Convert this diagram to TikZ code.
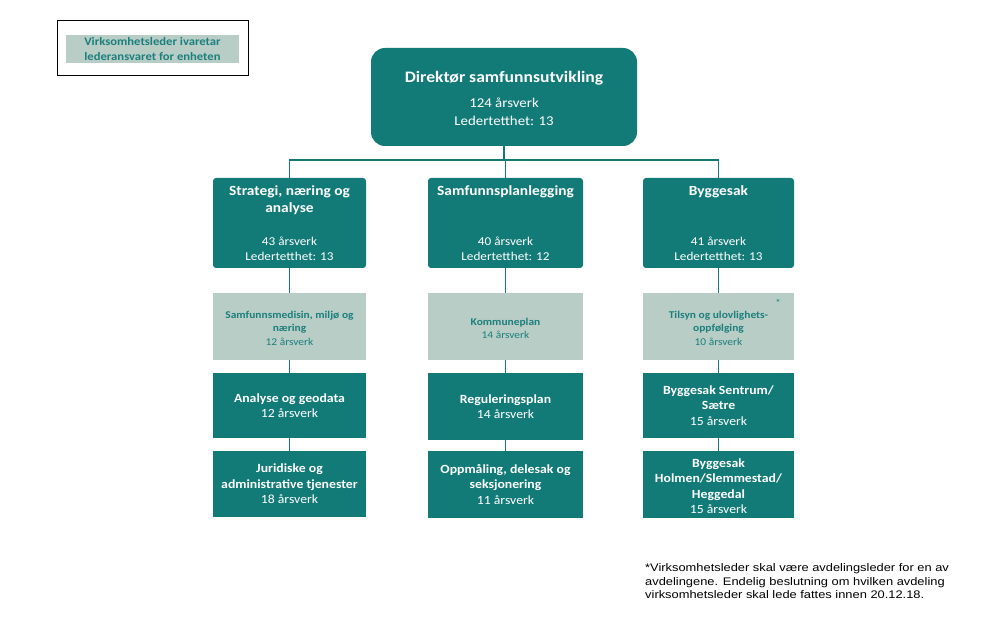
\documentclass[tikz,border=0pt]{standalone}
\usepackage{fontspec}
\setmainfont[FakeStretch=1.1]{Carlito}
\newfontfamily\arialfont[FakeStretch=1.17]{Liberation Sans}
\definecolor{teal1}{HTML}{127B78}
\definecolor{lightgr}{HTML}{B7CDC6}
\definecolor{tealtxt}{HTML}{1C7F7C}
\begin{document}
\begin{tikzpicture}[x=1pt,y=-1pt,
  darkbox/.style={fill=teal1,draw=none,rounded corners=3pt},
  lightbox/.style={fill=lightgr,draw=none},
  conn/.style={draw=teal1,line width=1.2pt},
  wtitle/.style={text=white,font=\fontsize{14}{17}\selectfont\bfseries,align=center,inner sep=0pt},
  wnum/.style={text=white,font=\fontsize{12}{15}\selectfont,align=center,inner sep=0pt},
  ltext/.style={text=tealtxt,align=center,inner sep=0pt,font=\fontsize{10.4}{13.5}\selectfont},
  rtext/.style={text=white,align=center,inner sep=0pt,font=\fontsize{12.5}{15.5}\selectfont}
]
\useasboundingbox (0,0) rectangle (985,620);
% legend
\node[draw=black,line width=0.8pt,minimum width=191pt,minimum height=55pt,inner sep=0pt] (legend) at (152.5,47.5) {};
\node[lightbox,minimum width=173pt,minimum height=28pt,inner sep=0pt,text=tealtxt,align=center,font=\fontsize{11.5}{15}\selectfont\bfseries] (legtxt) at (152.5,49) {Virksomhetsleder ivaretar\\lederansvaret for enheten};
% director
\node[fill=teal1,rounded corners=14pt,minimum width=266pt,minimum height=98pt,inner sep=0pt] (dir) at (504,97) {};
\node[text=white,font=\fontsize{16}{18}\selectfont\bfseries,inner sep=0pt] (dirt) at (504,78) {Direktør samfunnsutvikling};
\node[text=white,font=\fontsize{13.5}{18}\selectfont,align=center,inner sep=0pt] (dirn) at (504,112) {124 årsverk\\Ledertetthet: 13};
% level 2
\node[darkbox,minimum width=153pt,minimum height=90pt,inner sep=0pt] (s) at (289.5,223) {};
\node[darkbox,minimum width=155pt,minimum height=90pt,inner sep=0pt] (p) at (505.5,223) {};
\node[darkbox,minimum width=151pt,minimum height=90pt,inner sep=0pt] (b) at (718.5,223) {};
\node[wtitle,anchor=north] (st) at (289.5,185) {Strategi, næring og\\analyse};
\node[wtitle,anchor=north] (pt) at (505.5,185) {Samfunnsplanlegging};
\node[wtitle,anchor=north] (bt) at (718.5,185) {Byggesak};
\node[wnum] (sn) at (289.5,248.5) {43 årsverk\\Ledertetthet: 13};
\node[wnum] (pn) at (505.5,248.5) {40 årsverk\\Ledertetthet: 12};
\node[wnum] (bn) at (718.5,248.5) {41 årsverk\\Ledertetthet: 13};
% level 3 light
\node[lightbox,minimum width=153pt,minimum height=67pt,inner sep=0pt] (s1) at (289.5,326.5) {};
\node[lightbox,minimum width=155pt,minimum height=67pt,inner sep=0pt] (p1) at (505.5,326.5) {};
\node[lightbox,minimum width=151pt,minimum height=67pt,inner sep=0pt] (b1) at (718.5,326.5) {};
\node[ltext] (s1t) at (289.5,328) {\textbf{Samfunnsmedisin, miljø og}\\\textbf{næring}\\12 årsverk};
\node[ltext] (p1t) at (505.5,328.5) {\textbf{Kommuneplan}\\14 årsverk};
\node[ltext] (b1t) at (718.5,328) {\textbf{Tilsyn og ulovlighets-}\\\textbf{oppfølging}\\10 årsverk};
\node[text=tealtxt,font=\fontsize{10}{10}\selectfont,inner sep=0pt] (star) at (778,303) {*};
% level 4
\node[darkbox,rounded corners=0pt,minimum width=153pt,minimum height=65pt,inner sep=0pt] (s2) at (289.5,405.5) {};
\node[darkbox,rounded corners=0pt,minimum width=155pt,minimum height=67pt,inner sep=0pt] (p2) at (505.5,406.5) {};
\node[darkbox,rounded corners=0pt,minimum width=151pt,minimum height=65pt,inner sep=0pt] (b2) at (718.5,405.5) {};
\node[rtext] (s2t) at (289.5,405.5) {\textbf{Analyse og geodata}\\12 årsverk};
\node[rtext] (p2t) at (505.5,406.5) {\textbf{Reguleringsplan}\\14 årsverk};
\node[rtext] (b2t) at (718.5,405.5) {\textbf{Byggesak Sentrum/}\\\textbf{Sætre}\\15 årsverk};
% level 5
\node[darkbox,rounded corners=0pt,minimum width=153pt,minimum height=66pt,inner sep=0pt] (s3) at (289.5,484) {};
\node[darkbox,rounded corners=0pt,minimum width=155pt,minimum height=67pt,inner sep=0pt] (p3) at (505.5,484.5) {};
\node[darkbox,rounded corners=0pt,minimum width=151pt,minimum height=67pt,inner sep=0pt] (b3) at (718.5,484.5) {};
\node[rtext] (s3t) at (289.5,484) {\textbf{Juridiske og}\\\textbf{administrative tjenester}\\18 årsverk};
\node[rtext] (p3t) at (505.5,484.5) {\textbf{Oppmåling, delesak og}\\\textbf{seksjonering}\\11 årsverk};
\node[rtext] (b3t) at (718.5,486) {\textbf{Byggesak}\\\textbf{Holmen/Slemmestad/}\\\textbf{Heggedal}\\15 årsverk};
% connectors
\coordinate (bus) at (504,160);
\draw[conn] (dir.south) -- (bus);
\draw[conn] (s.north) |- (bus) -| (b.north);
\draw[conn] (p.north) -- (p.north |- bus);
\draw[conn] (s.south) -- (s1.north);
\draw[conn] (p.south) -- (p1.north);
\draw[conn] (b.south) -- (b1.north);
\draw[conn] (s1.south) -- (s2.north);
\draw[conn] (p1.south) -- (p2.north);
\draw[conn] (b1.south) -- (b2.north);
\draw[conn] (s2.south) -- (s3.north);
\draw[conn] (p2.south) -- (p3.north);
\draw[conn] (b2.south) -- (b3.north);
% footnote
\node[anchor=north west,align=left,inner sep=0pt,font=\arialfont\fontsize{11}{13.5}\selectfont] (foot) at (645,563.5) {*Virksomhetsleder skal være avdelingsleder for en av\\avdelingene. Endelig beslutning om hvilken avdeling\\virksomhetsleder skal lede fattes innen 20.12.18.};
\end{tikzpicture}
\end{document}
